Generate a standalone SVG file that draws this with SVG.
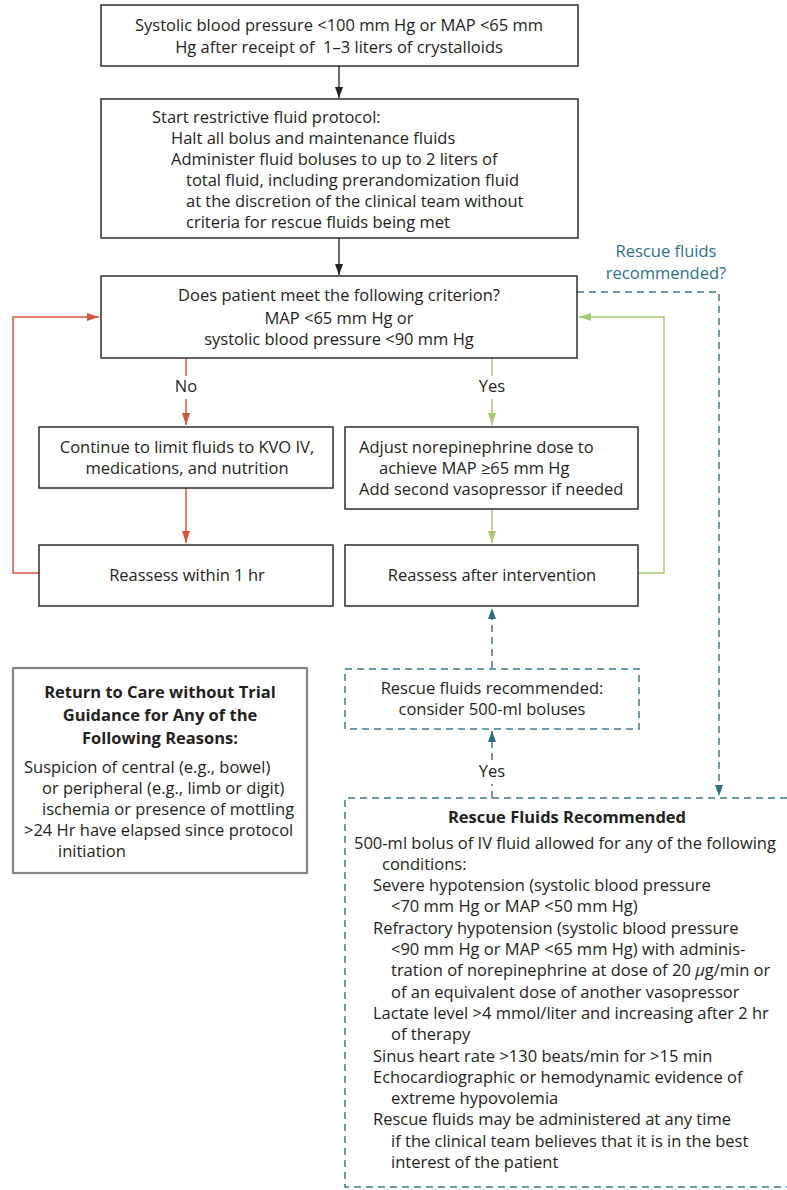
<svg xmlns="http://www.w3.org/2000/svg" width="787" height="1190" viewBox="0 0 787 1190">
<style>
text{font-family:"Open Sans","Noto Sans","Liberation Sans",sans-serif;font-size:16.5px;fill:#231f20}
.c{text-anchor:middle}
.b{font-weight:bold}
.tl{fill:#2f7189}
.box{fill:#fff;stroke:#231f20;stroke-width:1.4}
.dbox{fill:#fff;stroke:#3a7a90;stroke-width:1.5;stroke-dasharray:7 5}
.gbox{fill:#fff;stroke:#858585;stroke-width:2.2}
.k{fill:none;stroke:#231f20;stroke-width:1.3}
.r{fill:none;stroke:#d2573c;stroke-width:1.5}
.g{fill:none;stroke:#a4cd72;stroke-width:1.5}
.t{fill:none;stroke:#3a7a90;stroke-width:1.5;stroke-dasharray:7 5}
</style>
<defs>
<marker id="ak" markerWidth="11" markerHeight="8" refX="11" refY="4" orient="auto" markerUnits="userSpaceOnUse"><path d="M0,0 L11,4 L0,8 z" fill="#231f20"/></marker>
<marker id="ar" markerWidth="12" markerHeight="8" refX="12" refY="4" orient="auto" markerUnits="userSpaceOnUse"><path d="M0,0 L12,4 L0,8 z" fill="#d2573c"/></marker>
<marker id="ag" markerWidth="12" markerHeight="8" refX="12" refY="4" orient="auto" markerUnits="userSpaceOnUse"><path d="M0,0 L12,4 L0,8 z" fill="#a4cd72"/></marker>
<marker id="at" markerWidth="11" markerHeight="8" refX="11" refY="4" orient="auto" markerUnits="userSpaceOnUse"><path d="M0,0 L11,4 L0,8 z" fill="#2a6e86"/></marker>
</defs>

<g id="connectors">
<path class="k" d="M339,66 V98" marker-end="url(#ak)"/>
<path class="k" d="M339,238 V275" marker-end="url(#ak)"/>
<path class="r" d="M186,358 V376"/>
<path class="r" d="M186,399 V425" marker-end="url(#ar)"/>
<path class="r" d="M186,488 V543" marker-end="url(#ar)"/>
<path class="r" d="M39,573 H13 V317 H99" marker-end="url(#ar)"/>
<path class="g" d="M492,358 V376"/>
<path class="g" d="M492,399 V425" marker-end="url(#ag)"/>
<path class="g" d="M492,509 V543" marker-end="url(#ag)"/>
<path class="g" d="M638,573 H664 V317 H579" marker-end="url(#ag)"/>
<path class="t" d="M577,292 H719 V796" marker-end="url(#at)"/>
<path class="t" d="M492,668 V608" marker-end="url(#at)"/>
<path class="t" d="M492,798 V784"/>
<path class="t" d="M492,760 V731" marker-end="url(#at)"/>
<text class="c" x="186" y="392">No</text>
<text class="c" x="492" y="392">Yes</text>
<text class="c" x="492" y="777">Yes</text>
<text class="c tl" x="666" y="257">Rescue fluids</text>
<text class="c tl" x="666" y="279">recommended?</text>
</g>

<g id="n1">
<rect class="box" x="101" y="5" width="477" height="61"/>
<text class="c" x="339" y="31">Systolic blood pressure &lt;100 mm Hg or MAP &lt;65 mm</text>
<text class="c" x="339" y="53">Hg after receipt of&#160; 1–3 liters of crystalloids</text>
</g>

<g id="n2">
<rect class="box" x="101" y="99" width="477" height="139"/>
<text x="152" y="122.5">Start restrictive fluid protocol:</text>
<text x="171" y="143.5">Halt all bolus and maintenance fluids</text>
<text x="171" y="164.5">Administer fluid boluses to up to 2 liters of</text>
<text x="186" y="185.5">total fluid, including prerandomization fluid</text>
<text x="186" y="206.5">at the discretion of the clinical team without</text>
<text x="186" y="227.5">criteria for rescue fluids being met</text>
</g>

<g id="n3">
<rect class="box" x="101" y="276" width="476" height="82"/>
<text class="c" x="339" y="300.5">Does patient meet the following criterion?</text>
<text class="c" x="339" y="323.5">MAP &lt;65 mm Hg or</text>
<text class="c" x="339" y="344.5">systolic blood pressure &lt;90 mm Hg</text>
</g>

<g id="n4">
<rect class="box" x="39" y="427" width="294" height="61"/>
<text class="c" x="187" y="452.5">Continue to limit fluids to KVO IV,</text>
<text class="c" x="187" y="473.5">medications, and nutrition</text>
</g>

<g id="n5">
<rect class="box" x="345" y="427" width="293" height="82"/>
<text x="359" y="452.5">Adjust norepinephrine dose to</text>
<text x="379" y="473.5">achieve MAP ≥65 mm Hg</text>
<text x="359" y="494.5">Add second vasopressor if needed</text>
</g>

<g id="n6">
<rect class="box" x="39" y="545" width="294" height="61"/>
<text class="c" x="187" y="580.5">Reassess within 1 hr</text>
</g>

<g id="n7">
<rect class="box" x="345" y="545" width="293" height="61"/>
<text class="c" x="492" y="580.5">Reassess after intervention</text>
</g>

<g id="n8">
<rect class="dbox" x="345" y="669" width="294" height="60"/>
<text class="c" x="492" y="693.5">Rescue fluids recommended:</text>
<text class="c" x="492" y="714.5">consider 500-ml boluses</text>
</g>

<g id="n9">
<rect class="gbox" x="13" y="668" width="294" height="205"/>
<text class="c b" x="160" y="697.5">Return to Care without Trial</text>
<text class="c b" x="160" y="720.5">Guidance for Any of the</text>
<text class="c b" x="160" y="743.5">Following Reasons:</text>
<text x="24" y="772.5">Suspicion of central (e.g., bowel)</text>
<text x="42" y="793.5">or peripheral (e.g., limb or digit)</text>
<text x="42" y="814.5">ischemia or presence of mottling</text>
<text x="24" y="835.5">&gt;24 Hr have elapsed since protocol</text>
<text x="58" y="856.5">initiation</text>
</g>

<g id="n10">
<path class="t" d="M787,798 H345 V1187 H787"/>
<text class="c b" x="567" y="822.5">Rescue Fluids Recommended</text>
<text x="354" y="848.5">500-ml bolus of IV fluid allowed for any of the following</text>
<text x="382" y="869.8">conditions:</text>
<text x="373" y="891.1">Severe hypotension (systolic blood pressure</text>
<text x="391" y="912.4">&lt;70 mm Hg or MAP &lt;50 mm Hg)</text>
<text x="373" y="933.7">Refractory hypotension (systolic blood pressure</text>
<text x="391" y="955">&lt;90 mm Hg or MAP &lt;65 mm Hg) with adminis-</text>
<text x="391" y="976.3">tration of norepinephrine at dose of 20 <tspan font-style="italic">μ</tspan>g/min or</text>
<text x="391" y="997.6">of an equivalent dose of another vasopressor</text>
<text x="373" y="1018.9">Lactate level &gt;4 mmol/liter and increasing after 2 hr</text>
<text x="391" y="1040.2">of therapy</text>
<text x="373" y="1061.5">Sinus heart rate &gt;130 beats/min for &gt;15 min</text>
<text x="373" y="1082.8">Echocardiographic or hemodynamic evidence of</text>
<text x="391" y="1104.1">extreme hypovolemia</text>
<text x="373" y="1125.4">Rescue fluids may be administered at any time</text>
<text x="391" y="1146.7">if the clinical team believes that it is in the best</text>
<text x="391" y="1168">interest of the patient</text>
</g>
</svg>
